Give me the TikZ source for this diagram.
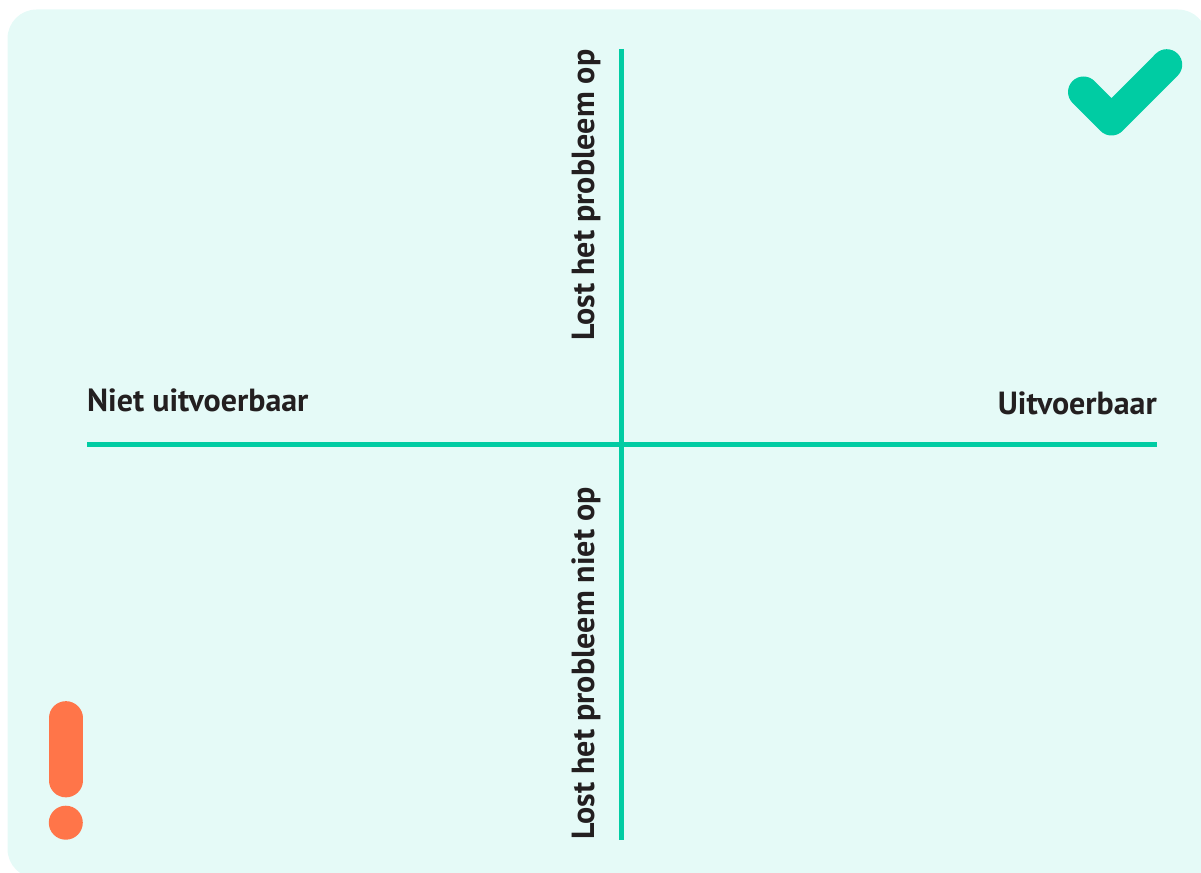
\documentclass[tikz,border=0pt]{standalone}
\usepackage{fontspec}
\setmainfont{PT Sans}
\definecolor{panel}{HTML}{E5FAF7}
\definecolor{teal}{HTML}{00CCA3}
\definecolor{coral}{HTML}{FF7549}
\definecolor{ink}{HTML}{231F20}
\tikzset{
  axis/.style={draw=teal,line width=5pt},
  lab/.style={font=\fontsize{32}{38}\selectfont\bfseries,text=ink,inner sep=0pt},
}
\begin{document}
\begin{tikzpicture}[x=1pt,y=-1pt]
\useasboundingbox (0,0) rectangle (1201,872);
\begin{scope}
\clip (0,0) rectangle (1201,872);
\fill[panel] (7.5,400) [rounded corners=29pt] -- (7.5,9.5) -- (1207,9.5) [sharp corners] -- (1207,878) [rounded corners=29pt] -- (7.5,878) [sharp corners] -- cycle;
\end{scope}
\coordinate (hl) at (87,444.7);
\coordinate (hr) at (1157,444.7);
\coordinate (vt) at (621.5,49);
\coordinate (vb) at (621.5,840);
\draw[axis] (hl) -- (hr);
\draw[axis] (vt) -- (vb);
\coordinate (c1) at (1083.5,92);
\coordinate (c2) at (1111.5,120);
\coordinate (c3) at (1166.7,64.7);
\draw[teal,line width=31pt,line cap=round,line join=round] (c1) -- (c2) -- (c3);
\coordinate (e1) at (65.8,718);
\coordinate (e2) at (65.8,780.5);
\draw[coral,line width=33.7pt,line cap=round] (e1) -- (e2);
\node[fill=coral,circle,minimum size=34pt,inner sep=0pt] (dot) at (65.8,822.7) {};
\node[lab,anchor=base west] (niet) at (87,411) {Niet uitvoerbaar};
\node[lab,anchor=base east] (uit) at (1157,414) {Uitvoerbaar};
\node[lab,anchor=base west,rotate=90] (top) at (594,341) {Lost het probleem op};
\node[lab,anchor=base west,rotate=90] (bot) at (594,840) {Lost het probleem niet op};
\end{tikzpicture}
\end{document}
